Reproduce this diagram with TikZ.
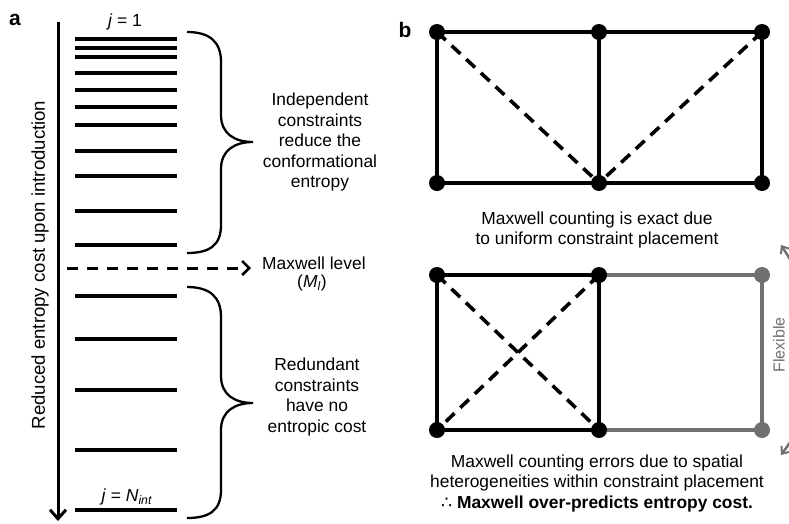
\documentclass[tikz,border=0pt]{standalone}
\usepackage{fontspec}
\setmainfont{Liberation Sans}
\newfontfamily\symfont{DejaVu Sans}
\usetikzlibrary{arrows.meta}
\definecolor{flexgray}{RGB}{112,112,112}
\tikzset{
  level/.style={line width=4.2pt},
  bracepath/.style={line width=2.3pt},
  vtx/.style={circle, fill=black, minimum size=16pt, inner sep=0pt},
  gvtx/.style={vtx, fill=flexgray},
  bar/.style={line width=4pt},
  dashbar/.style={line width=3.6pt, dash pattern=on 12pt off 8pt},
  txt/.style={align=center, inner sep=0pt, font=\fontsize{17.4}{20.5}\selectfont},
  panel/.style={inner sep=0pt, font=\fontsize{21}{22}\selectfont\bfseries},
}
\begin{document}
\begin{tikzpicture}[x=1pt,y=-1pt]
\useasboundingbox (0,0) rectangle (789,523);
\clip (0,0) rectangle (789,523);
% ---------- panel a ----------
\node[panel] (pa) at (15,20) {a};
\coordinate (ax0) at (58,22);
\coordinate (ax1) at (58,521);
\draw[line width=3pt, -{Straight Barb[length=9pt,width=16pt,line width=3pt]}] (ax0) -- (ax1);
\node[rotate=90, inner sep=0pt, font=\fontsize{18.6}{20}\selectfont] (axl) at (40,265) {Reduced entropy cost upon introduction};
\node[inner sep=0pt, font=\fontsize{17.5}{20}\selectfont] (j1) at (125,22) {\textit{j} = 1};
\foreach \yy in {39,48,57,73,90,107,125,151,176,211,245,296,339,390,450,510}
  \draw[level] (75,\yy) -- (177,\yy);
\node[inner sep=0pt, font=\fontsize{17.5}{20}\selectfont] (jn) at (127,497) {\textit{j} = \textit{N}\textsubscript{\textit{int}}};
\coordinate (ml0) at (67,268);
\coordinate (ml1) at (251,268);
\draw[line width=3pt, dash pattern=on 11pt off 9pt, -{Straight Barb[length=7pt,width=14pt,line width=2.5pt]}] (ml0) -- (ml1);
\node[txt, anchor=west] (mlt) at (262,263) {Maxwell level};
\node[txt] (mlt2) at (312,283) {(\textit{M}\textsubscript{\textit{l}})};
% braces
\draw[bracepath] (187,32) .. controls (210,32) and (221,42) .. (221,62) -- (221,115)
  .. controls (221,134) and (235,142) .. (253,142)
  .. controls (235,142) and (221,150) .. (221,169) -- (221,225)
  .. controls (221,245) and (210,253) .. (187,253);
\draw[bracepath] (187,287) .. controls (210,287) and (221,297) .. (221,317) -- (221,376)
  .. controls (221,395) and (235,403) .. (253,403)
  .. controls (235,403) and (221,411) .. (221,430) -- (221,490)
  .. controls (221,510) and (210,518) .. (187,518);
\node[txt] (ind) at (320,142) {Independent\\constraints\\reduce the\\conformational\\entropy};
\node[txt] (red) at (317,397) {Redundant\\constraints\\have no\\entropic cost};
% ---------- panel b ----------
\node[panel] (pb) at (405,30) {b};
% top grid
\coordinate (p1) at (437,32);
\coordinate (p2) at (599,32);
\coordinate (p3) at (762,32);
\coordinate (q1) at (437,183);
\coordinate (q2) at (599,183);
\coordinate (q3) at (762,183);
\draw[bar] (p1) -- (p3) -- (q3) -- (q1) -- cycle;
\draw[bar] (p2) -- (q2);
\draw[dashbar] (p1) -- (q2);
\draw[dashbar] (p3) -- (q2);
\node[vtx] (t1) at (p1) {};
\node[vtx] (t2) at (p2) {};
\node[vtx] (t3) at (p3) {};
\node[vtx] (b1) at (q1) {};
\node[vtx] (b2) at (q2) {};
\node[vtx] (b3) at (q3) {};
\node[txt] (cap1) at (597,230) {Maxwell counting is exact due\\to uniform constraint placement};
% bottom grid
\coordinate (u1) at (437,275);
\coordinate (u2) at (599,275);
\coordinate (u3) at (762,275);
\coordinate (l1) at (437,430);
\coordinate (l2) at (599,430);
\coordinate (l3) at (762,430);
\draw[bar, flexgray] (u2) -- (u3) -- (l3) -- (l2);
\draw[bar] (u2) -- (u1) -- (l1) -- (l2) -- cycle;
\draw[dashbar] (u1) -- (l2);
\draw[dashbar] (u2) -- (l1);
\node[vtx] (n1) at (u1) {};
\node[vtx] (n2) at (u2) {};
\node[gvtx] (n3) at (u3) {};
\node[vtx] (m1) at (l1) {};
\node[vtx] (m2) at (l2) {};
\node[gvtx] (m3) at (l3) {};
\node[inner sep=0pt, font=\fontsize{16}{18}\selectfont, text=flexgray, rotate=90] (flex) at (779,345) {Flexible};
\draw[flexgray, line width=2.5pt, -{Straight Barb[length=6pt,width=10pt,line width=2pt]}] (796,275) .. controls (792,262) .. (781,245);
\draw[flexgray, line width=2.5pt, -{Straight Barb[length=6pt,width=10pt,line width=2pt]}] (796,425) .. controls (792,440) .. (781,455);
\node[txt] (cap2) at (597,483) {Maxwell counting errors due to spatial\\heterogeneities within constraint placement\\{\symfont ∴} \textbf{Maxwell over-predicts entropy cost.}};
\end{tikzpicture}
\end{document}
